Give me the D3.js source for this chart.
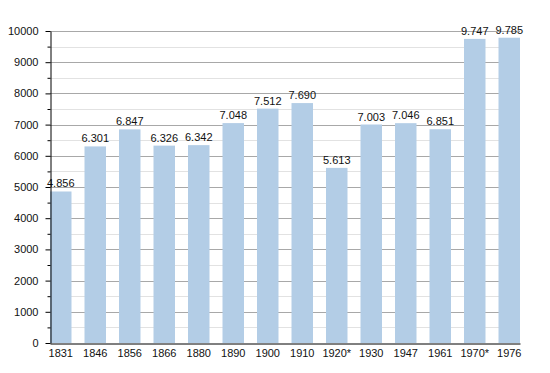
<!DOCTYPE html>
<html>
<head>
<meta charset="utf-8">
<script src="https://cdn.jsdelivr.net/npm/d3@7"></script>
<style>
    body { margin: 0; background: #fff; }
    text { font-family: "Liberation Sans", Arial, sans-serif; font-size: 11px; fill: #111; }
</style>
</head>
<body>
<script>
//census years and population values
var years = ["1831", "1846", "1856", "1866", "1880", "1890", "1900", "1910", "1920*", "1930", "1947", "1961", "1970*", "1976"];
var population = [4856, 6301, 6847, 6326, 6342, 7048, 7512, 7690, 5613, 7003, 7046, 6851, 9747, 9785];
var majorTicks = [0, 1000, 2000, 3000, 4000, 5000, 6000, 7000, 8000, 9000, 10000];
var minorTicks = [500, 1500, 2500, 3500, 4500, 5500, 6500, 7500, 8500, 9500];

window.onload = function(){

    var w = 550, h = 373;
    var left = 50, right = 520, top = 31, bottom = 343;

    var svg = d3.select("body")
        .append("svg")
        .attr("width", w)
        .attr("height", h);

    var x = d3.scaleBand()
        .domain(years)
        .range([left, right])
        .paddingInner(0.377)
        .paddingOuter(0);

    var y = d3.scaleLinear()
        .domain([0, 10000])
        .range([bottom, top]);

    //dotted thousands separator
    var format = d3.formatLocale({decimal: ",", thousands: ".", grouping: [3], currency: ["", ""]}).format(",");

    //minor gridlines
    svg.selectAll(".minor")
        .data(minorTicks)
        .enter()
        .append("line")
        .attr("x1", left).attr("x2", right)
        .attr("y1", function(d){ return Math.round(y(d)) + 0.5; })
        .attr("y2", function(d){ return Math.round(y(d)) + 0.5; })
        .style("stroke", "#e2e2e2");

    //major gridlines
    svg.selectAll(".major")
        .data(majorTicks.slice(1))
        .enter()
        .append("line")
        .attr("x1", left).attr("x2", right)
        .attr("y1", function(d){ return Math.round(y(d)) + 0.5; })
        .attr("y2", function(d){ return Math.round(y(d)) + 0.5; })
        .style("stroke", "#a8a8a8");

    //bars
    svg.selectAll(".bar")
        .data(population)
        .enter()
        .append("rect")
        .attr("x", function(d, i){ return x(years[i]); })
        .attr("width", x.bandwidth())
        .attr("y", function(d){ return y(d); })
        .attr("height", function(d){ return bottom - y(d); })
        .style("fill", "#b3cde6");

    //value labels
    svg.selectAll(".val")
        .data(population)
        .enter()
        .append("text")
        .attr("text-anchor", "middle")
        .attr("x", function(d, i){ return x(years[i]) + x.bandwidth() / 2; })
        .attr("y", function(d){ return y(d) - 4; })
        .text(function(d){ return format(d); });

    //y axis with minor ticks
    var yMinor = svg.append("g")
        .attr("transform", "translate(" + (left + 0.5) + ",0)")
        .call(d3.axisLeft(y).tickValues(minorTicks).tickSize(3).tickFormat(""));
    yMinor.select(".domain").remove();

    var yAxis = svg.append("g")
        .attr("transform", "translate(" + (left + 0.5) + ",0)")
        .call(d3.axisLeft(y).tickValues(majorTicks).tickFormat(d3.format("d")).tickSize(5).tickPadding(7).tickSizeOuter(0));
    yAxis.select(".domain").style("stroke", "#000");
    yAxis.selectAll("text").style("font-family", "Liberation Sans, Arial, sans-serif").style("font-size", "11px");

    //x axis
    var xAxis = svg.append("g")
        .attr("transform", "translate(0," + (bottom + 0.5) + ")")
        .call(d3.axisBottom(x).tickSize(0).tickPadding(6).tickSizeOuter(0));
    xAxis.select(".domain").style("stroke", "#000");
    xAxis.selectAll("text").style("font-family", "Liberation Sans, Arial, sans-serif").style("font-size", "11px");
}
</script>
</body>
</html>
